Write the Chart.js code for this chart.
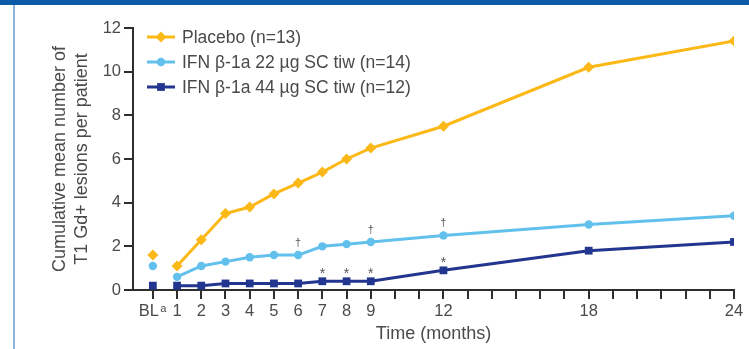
<!DOCTYPE html>
<html>
<head>
<meta charset="utf-8">
<title>Cumulative T1 Gd+ lesions</title>
<script src="https://cdn.jsdelivr.net/npm/chart.js@4/dist/chart.umd.min.js"></script>
<style>
  html, body { margin: 0; padding: 0; background: #ffffff; }
  #wrap { position: relative; width: 749px; height: 349px; overflow: hidden; }
  #topbar { position: absolute; left: 0; top: 0; width: 749px; height: 5px; background: #0a5aa8; }
  #sidebar { position: absolute; left: 13px; top: 5px; width: 2px; height: 344px; background: #8db3df; }
  #c { position: absolute; left: 0; top: 0; }
</style>
</head>
<body>
<div id="wrap">
  <div id="topbar"></div>
  <div id="sidebar"></div>
  <canvas id="c" width="749" height="349"></canvas>
</div>
<script>
// Visit months (0 = baseline)
const months = [0, 1, 2, 3, 4, 5, 6, 7, 8, 9, 12, 18, 24];

// Cumulative mean number of T1 Gd+ lesions per patient
const placebo = [1.6, 1.1, 2.3, 3.5, 3.8, 4.4, 4.9, 5.4, 6.0, 6.5, 7.5, 10.2, 11.4];
const ifn22   = [1.1, 0.6, 1.1, 1.3, 1.5, 1.6, 1.6, 2.0, 2.1, 2.2, 2.5, 3.0, 3.4];
const ifn44   = [0.2, 0.2, 0.2, 0.3, 0.3, 0.3, 0.3, 0.4, 0.4, 0.4, 0.9, 1.8, 2.2];

const seriesLabels = [
  'Placebo (n=13)',
  'IFN \u03B2-1a 22 \u00B5g SC tiw (n=14)',
  'IFN \u03B2-1a 44 \u00B5g SC tiw (n=12)'
];

// Tick marks every month; text only on selected months
const tickMonths = Array.from({length: 25}, (_, i) => i);
const tickText = {0: 'BL', 1: '1', 2: '2', 3: '3', 4: '4', 5: '5', 6: '6', 7: '7', 8: '8', 9: '9', 12: '12', 18: '18', 24: '24'};
const yTicks = [0, 2, 4, 6, 8, 10, 12];

// Significance markers
const daggerMonths = [6, 9, 12];     // on the 22 µg series
const starMonths = [7, 8, 9, 12];    // on the 44 µg series

const COLORS = ['#fbb817', '#62c0ec', '#23368f'];
const TEXT = '#4a4a4a';
const AXIS = '#2e2e2e';
const FONT = '"Liberation Sans", Arial, Helvetica, sans-serif';

function series(values) {
  return months.map((m, i) => ({x: m, y: values[i]}));
}

function makeDataset(label, values, color, style, radius) {
  return {
    label: label,
    data: series(values),
    borderColor: color,
    backgroundColor: color,
    pointBackgroundColor: color,
    pointBorderColor: color,
    pointBorderWidth: 0,
    borderWidth: 3,
    pointStyle: style,
    pointRadius: radius,
    pointHoverRadius: radius,
    tension: 0,
    // baseline value is shown on its own, not joined to month 1
    segment: {
      borderColor: ctx => ctx.p0.parsed.x === 0 ? 'rgba(0,0,0,0)' : color
    }
  };
}

const legendPlugin = {
  id: 'insideLegend',
  afterDraw(chart) {
    const ctx = chart.ctx;
    const x0 = 147, x1 = 175, tx = 182;
    const rows = [37, 62, 87];
    ctx.save();
    chart.data.datasets.forEach((ds, i) => {
      const y = rows[i];
      ctx.strokeStyle = ds.borderColor;
      ctx.lineWidth = 3;
      ctx.beginPath();
      ctx.moveTo(x0, y);
      ctx.lineTo(x1, y);
      ctx.stroke();
      ctx.fillStyle = ds.backgroundColor;
      ctx.strokeStyle = ds.backgroundColor;
      Chart.helpers.drawPoint(ctx, {pointStyle: ds.pointStyle, radius: ds.pointRadius, borderWidth: 0, rotation: 0}, (x0 + x1) / 2, y);
      ctx.fillStyle = TEXT;
      ctx.font = '17.5px ' + FONT;
      ctx.textBaseline = 'middle';
      ctx.textAlign = 'left';
      ctx.fillText(ds.label, tx, y + 1);
    });
    ctx.restore();
  }
};

const markPlugin = {
  id: 'sigMarks',
  afterDatasetsDraw(chart) {
    const ctx = chart.ctx;
    ctx.save();
    ctx.fillStyle = '#555555';
    ctx.textAlign = 'center';
    ctx.textBaseline = 'middle';
    const draw = (dsIndex, list, sym, font, dy) => {
      const meta = chart.getDatasetMeta(dsIndex);
      ctx.font = font;
      list.forEach(m => {
        const idx = months.indexOf(m);
        const pt = meta.data[idx];
        ctx.fillText(sym, pt.x, pt.y - dy);
      });
    };
    draw(1, daggerMonths, '\u2020', '11px ' + FONT, 12);
    draw(2, starMonths, '*', '14px ' + FONT, 7);

    // superscript on the baseline tick label
    const xs = chart.scales.x;
    const xb = xs.getPixelForValue(0);
    ctx.font = '16.5px ' + FONT;
    const full = ctx.measureText('BL\u2002').width;
    const bl = ctx.measureText('BL').width;
    ctx.font = '11px ' + FONT;
    ctx.fillStyle = TEXT;
    ctx.textAlign = 'left';
    ctx.textBaseline = 'top';
    ctx.fillText('a', xb - full / 2 + bl + 1.5, xs.top + 13);
    ctx.restore();
  }
};

new Chart(document.getElementById('c'), {
  type: 'line',
  data: {
    datasets: [
      makeDataset(seriesLabels[0], placebo, COLORS[0], 'rectRot', 5.5),
      makeDataset(seriesLabels[1], ifn22, COLORS[1], 'circle', 4.2),
      makeDataset(seriesLabels[2], ifn44, COLORS[2], 'rect', 5.5)
    ]
  },
  options: {
    responsive: false,
    animation: false,
    events: [],
    layout: {padding: {left: 0, right: 15, top: 28, bottom: 0}},
    plugins: {legend: {display: false}, tooltip: {enabled: false}},
    scales: {
      x: {
        type: 'linear',
        min: -0.82,
        max: 24,
        afterBuildTicks(scale) {
          scale.ticks = tickMonths.map(v => ({value: v}));
        },
        afterFit(scale) { scale.height = 59; },
        ticks: {
          autoSkip: false,
          maxRotation: 0,
          color: TEXT,
          padding: 3,
          font: {family: FONT, size: 16.5},
          callback: v => v === 0 ? 'BL\u2002' : (tickText[v] || '')
        },
        grid: {drawOnChartArea: false, drawTicks: true, tickLength: 9, lineWidth: 2, color: AXIS},
        border: {color: AXIS, width: 2},
        title: {
          display: true,
          text: 'Time (months)',
          color: TEXT,
          font: {family: FONT, size: 18, lineHeight: 1.2},
          padding: {top: 0, bottom: 4}
        }
      },
      y: {
        type: 'linear',
        min: 0,
        max: 12,
        afterBuildTicks(scale) {
          scale.ticks = yTicks.map(v => ({value: v}));
        },
        afterFit(scale) { scale.width = 133; },
        ticks: {
          color: TEXT,
          padding: 3,
          font: {family: FONT, size: 16.5}
        },
        grid: {drawOnChartArea: false, drawTicks: true, tickLength: 9, lineWidth: 2, color: AXIS},
        border: {color: AXIS, width: 2},
        title: {
          display: true,
          text: ['Cumulative mean number of', 'T1 Gd+ lesions per patient'],
          color: TEXT,
          font: {family: FONT, size: 18, lineHeight: 1.22},
          padding: {top: 49, bottom: 0}
        }
      }
    }
  },
  plugins: [legendPlugin, markPlugin]
});
</script>
</body>
</html>
